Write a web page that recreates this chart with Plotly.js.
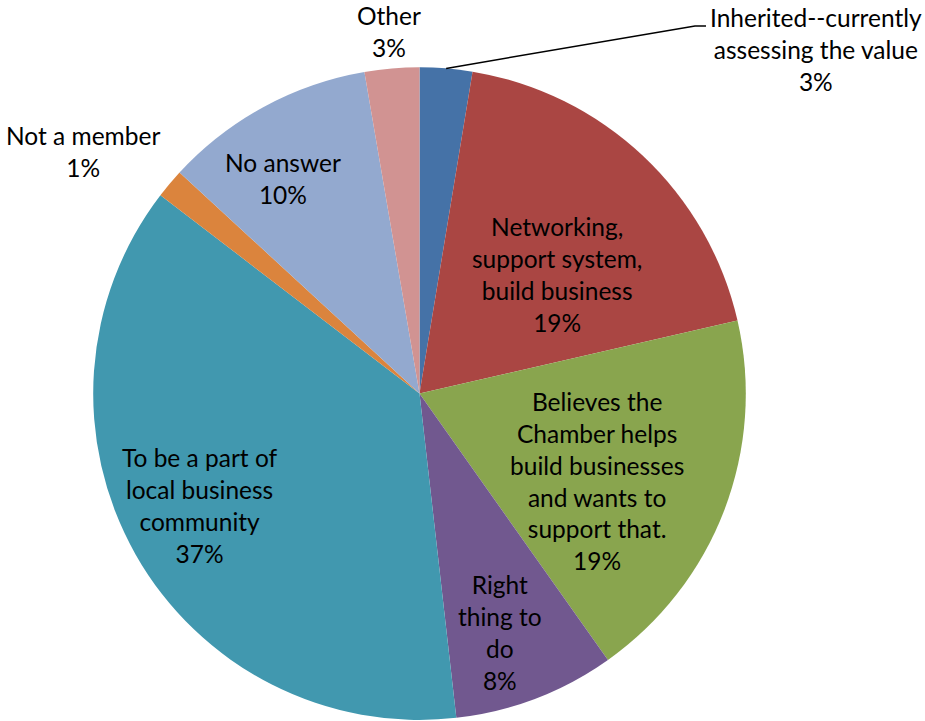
<!DOCTYPE html>
<html>
<head>
<meta charset="utf-8">
<script src="https://cdn.plot.ly/plotly-3.0.1.min.js"></script>
<style>html,body{margin:0;padding:0;background:#fff;}#chart{width:925px;height:721px;}</style>
</head>
<body>
<div id="chart"></div>
<script>
// ---- data ----
const labels = [
  'Inherited--currently<br>assessing the value',
  'Networking,<br>support system,<br>build business',
  'Believes the<br>Chamber helps<br>build businesses<br>and wants to<br>support that.',
  'Right<br>thing to<br>do',
  'To be a part of<br>local business<br>community',
  'Not a member',
  'No answer',
  'Other'
];
const values = [2.6, 18.8, 18.8, 8.0, 37.2, 1.45, 10.45, 2.7];
const colors = ['#4572A7', '#AA4643', '#89A54E', '#71588F', '#4198AF', '#DB843D', '#93A9CF', '#D19392'];

// ---- layout constants (pixels) ----
const W = 925, H = 721;
const cx = 419.5, cy = 393.6, R = 326.3;
const labelPos = [[816, 50], [557, 274], [597, 481], [500, 632], [200, 505], [83, 151], [283, 178], [389, 32]];

const total = values.reduce((a, b) => a + b, 0);
const pctText = values.map(v => Math.round(v / total * 100) + '%');

const annotations = labels.map((lab, i) => ({
  x: labelPos[i][0] / W, y: 1 - labelPos[i][1] / H,
  xref: 'paper', yref: 'paper', xanchor: 'center', yanchor: 'middle',
  showarrow: false, align: 'center',
  text: lab + '<br>' + pctText[i],
  font: {family: 'Lato, "Open Sans", sans-serif', size: 24.5, color: '#000'}
}));

// leader line for first slice, from the slice mid-angle on the edge
const midFrac = values[0] / 2 / total;
const th = midFrac * 2 * Math.PI;
const p0 = [cx + R * Math.sin(th), cy - R * Math.cos(th)];
const p1 = [695, 26];
const p2 = [706, 26];
const toP = p => (p[0] / W).toFixed(5) + ',' + (1 - p[1] / H).toFixed(5);

const data = [{
  type: 'pie',
  labels: labels,
  values: values,
  sort: false,
  direction: 'clockwise',
  rotation: 0,
  textinfo: 'none',
  hoverinfo: 'label+percent',
  marker: {colors: colors, line: {width: 0}},
  domain: {x: [(cx - R) / W, (cx + R) / W], y: [1 - (cy + R) / H, 1 - (cy - R) / H]}
}];

const layout = {
  width: W, height: H,
  margin: {l: 0, r: 0, t: 0, b: 0},
  paper_bgcolor: '#fff',
  showlegend: false,
  annotations: annotations,
  shapes: [{
    type: 'path', xref: 'paper', yref: 'paper',
    path: 'M ' + toP(p0) + ' L ' + toP(p1) + ' L ' + toP(p2),
    line: {color: '#000', width: 1.5}
  }]
};

Plotly.newPlot('chart', data, layout, {displayModeBar: false, staticPlot: true});
</script>
</body>
</html>
